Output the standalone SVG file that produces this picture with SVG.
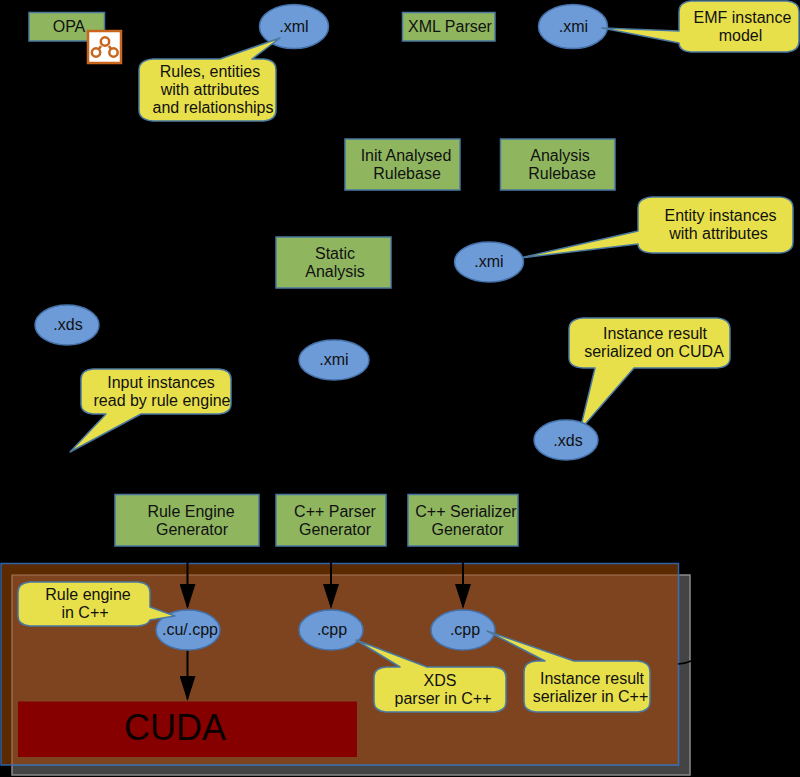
<svg xmlns="http://www.w3.org/2000/svg" width="800" height="777" viewBox="0 0 800 777">
<style>
text{font-family:"Liberation Sans",Arial,sans-serif;font-size:16px;fill:#111;text-anchor:middle}
.g{fill:#8fb65f;stroke:#4a78a0;stroke-width:1.5}
.e{fill:#6c9bd8;stroke:#4672ab;stroke-width:1.5}
.c{fill:#e8e04a;stroke:#4a78a0;stroke-width:1.5;stroke-linejoin:round}
.l{stroke:#000;stroke-width:2;fill:none;marker-end:url(#a)}
</style>
<defs>
<marker id="a" markerUnits="userSpaceOnUse" markerWidth="25" markerHeight="16" refX="23" refY="8" viewBox="0 0 25 16" orient="auto"><path d="M0 0L25 8L0 16Z" fill="#000"/></marker>
</defs>
<rect width="800" height="777" fill="#000"/>
<g id="backdrop">
<rect x="12" y="575" width="678" height="200" fill="#444" stroke="#8a8a8a" stroke-width="1.5"/>
<rect x="1" y="563.5" width="677.5" height="201.5" fill="#5c2a00" stroke="#2f62a8" stroke-width="1.5"/>
<rect x="12" y="575" width="666.5" height="190" fill="#7e4420"/>
<path d="M12 765V575H678" fill="none" stroke="#a5775a" stroke-width="1.2"/>
<path d="M678.5 575V765H12" fill="none" stroke="#3f6daa" stroke-width="1.5"/>
<path d="M678 664Q685 664 691 661" fill="none" stroke="#000" stroke-width="1.5"/>
</g>
<g id="connectors">
<path class="l" d="M187.500 546V607"/>
<path class="l" d="M331 546V607"/>
<path class="l" d="M463 546V607"/>
<path class="l" d="M187.500 650V699"/>
</g>
<g id="opa"><rect class="g" x="29" y="12.500" width="75.500" height="28.500"/><text x="69" y="32">OPA</text></g>
<g id="opa-icon">
<rect x="88" y="31" width="33" height="32" fill="#fff" stroke="#c8661e" stroke-width="2.500"/>
<g fill="none" stroke="#c8661e" stroke-width="2.500"><path d="M101 46L99 49M109 46L111 49"/><circle cx="105" cy="41.500" r="4.200"/><circle cx="96" cy="52.500" r="4.200"/><circle cx="113.500" cy="52.500" r="4.200"/></g>
</g>
<g id="xml"><ellipse class="e" cx="294" cy="26.500" rx="34.500" ry="22"/><text x="294" y="32">.xml</text></g>
<g id="note-rules"><path class="c" d="M153 59H220L280 38L252 59H264Q276 60 276 70V110Q276 120 264 121H153Q139 120 139 110V70Q139 60 153 59Z"/><text x="210" y="77">Rules, entities</text><text x="210" y="95">with attributes</text><text x="213" y="113">and relationships</text></g>
<g id="xml-parser"><rect class="g" x="402.500" y="12.500" width="92.500" height="28.500"/><text x="450" y="32">XML Parser</text></g>
<g id="xmi-1"><ellipse class="e" cx="573" cy="26.500" rx="34.500" ry="22"/><text x="573.500" y="32">.xmi</text></g>
<g id="note-emf"><path class="c" d="M691 1H787Q799 2 799 12V41Q799 51 787 52H691Q679 51 679 43L602 28L679 31V12Q679 2 691 1Z"/><text x="742.500" y="23">EMF instance</text><text x="740.500" y="41">model</text></g>
<g id="init"><rect class="g" x="345" y="139" width="115" height="51"/><text x="406" y="161">Init Analysed</text><text x="407" y="179">Rulebase</text></g>
<g id="analysis"><rect class="g" x="500.500" y="139" width="114.500" height="51"/><text x="560" y="161">Analysis</text><text x="562" y="179">Rulebase</text></g>
<g id="note-entity"><path class="c" d="M652 197H780Q793 198 793 208V242Q793 252 780 253H652Q638 252 638 244L520 258L638 231V208Q638 198 652 197Z"/><text x="720.500" y="221">Entity instances</text><text x="718.500" y="239">with attributes</text></g>
<g id="xmi-2"><ellipse class="e" cx="489" cy="262" rx="34.500" ry="20"/><text x="489" y="267">.xmi</text></g>
<g id="static"><rect class="g" x="276" y="237" width="115" height="51"/><text x="335" y="259">Static</text><text x="335" y="277">Analysis</text></g>
<g id="xds-1"><ellipse class="e" cx="67" cy="325" rx="32" ry="20"/><text x="68" y="330">.xds</text></g>
<g id="xmi-3"><ellipse class="e" cx="334" cy="360" rx="35" ry="20"/><text x="334" y="365">.xmi</text></g>
<g id="note-input"><path class="c" d="M93 369H219Q231 370 231 379V404Q231 413 219 414H141L70 452L106 414H93Q81 413 81 404V379Q81 370 93 369Z"/><text x="161" y="388">Input instances</text><text x="162" y="406">read by rule engine</text></g>
<g id="note-instance"><path class="c" d="M583 318H717Q730 319 730 329V358Q730 367 717 368H634L580 430L595 368H583Q569 367 569 358V329Q569 319 583 318Z"/><text x="655" y="339">Instance result</text><text x="654" y="357">serialized on CUDA</text></g>
<g id="xds-2"><ellipse class="e" cx="566" cy="440" rx="32" ry="20"/><text x="568" y="446">.xds</text></g>
<g id="rule-gen"><rect class="g" x="115" y="494.500" width="144" height="51.500"/><text x="191" y="517">Rule Engine</text><text x="192" y="535">Generator</text></g>
<g id="parser-gen"><rect class="g" x="276" y="494.500" width="110" height="51.500"/><text x="335" y="517">C++ Parser</text><text x="335" y="535">Generator</text></g>
<g id="serializer-gen"><rect class="g" x="408" y="494.500" width="110" height="51.500"/><text x="466" y="517">C++ Serializer</text><text x="467.500" y="535">Generator</text></g>
<g id="cuda"><rect x="18" y="701.500" width="339" height="55.500" fill="#860000"/><text x="175" y="740" style="font-size:36px;fill:#0a0000">CUDA</text></g>
<g id="cu-cpp"><ellipse class="e" cx="188" cy="630" rx="32" ry="20"/><text x="190" y="635">.cu/.cpp</text></g>
<g id="cpp-1"><ellipse class="e" cx="331" cy="630" rx="32" ry="20"/><text x="332" y="635">.cpp</text></g>
<g id="cpp-2"><ellipse class="e" cx="463" cy="630" rx="32" ry="20"/><text x="465" y="635">.cpp</text></g>
<g id="note-rule-engine"><path class="c" d="M30 582H138Q150 583 150 592V607L175 616L150 620Q148 625 138 626H30Q18 625 18 616V592Q18 583 30 582Z"/><text x="88" y="600">Rule engine</text><text x="85" y="618">in C++</text></g>
<g id="note-xds"><path class="c" d="M386 667H400L356 640L427 667H494Q506 668 506 677V702Q506 711 494 712H386Q374 711 374 702V677Q374 668 386 667Z"/><text x="440" y="686">XDS</text><text x="443" y="704">parser in C++</text></g>
<g id="note-serializer"><path class="c" d="M536 661H545L487 631L574 661H638Q650 662 650 672V702Q650 711 638 712H536Q524 711 524 702V672Q524 662 536 661Z"/><text x="592" y="684">Instance result</text><text x="590.500" y="702">serializer in C++</text></g>
</svg>
